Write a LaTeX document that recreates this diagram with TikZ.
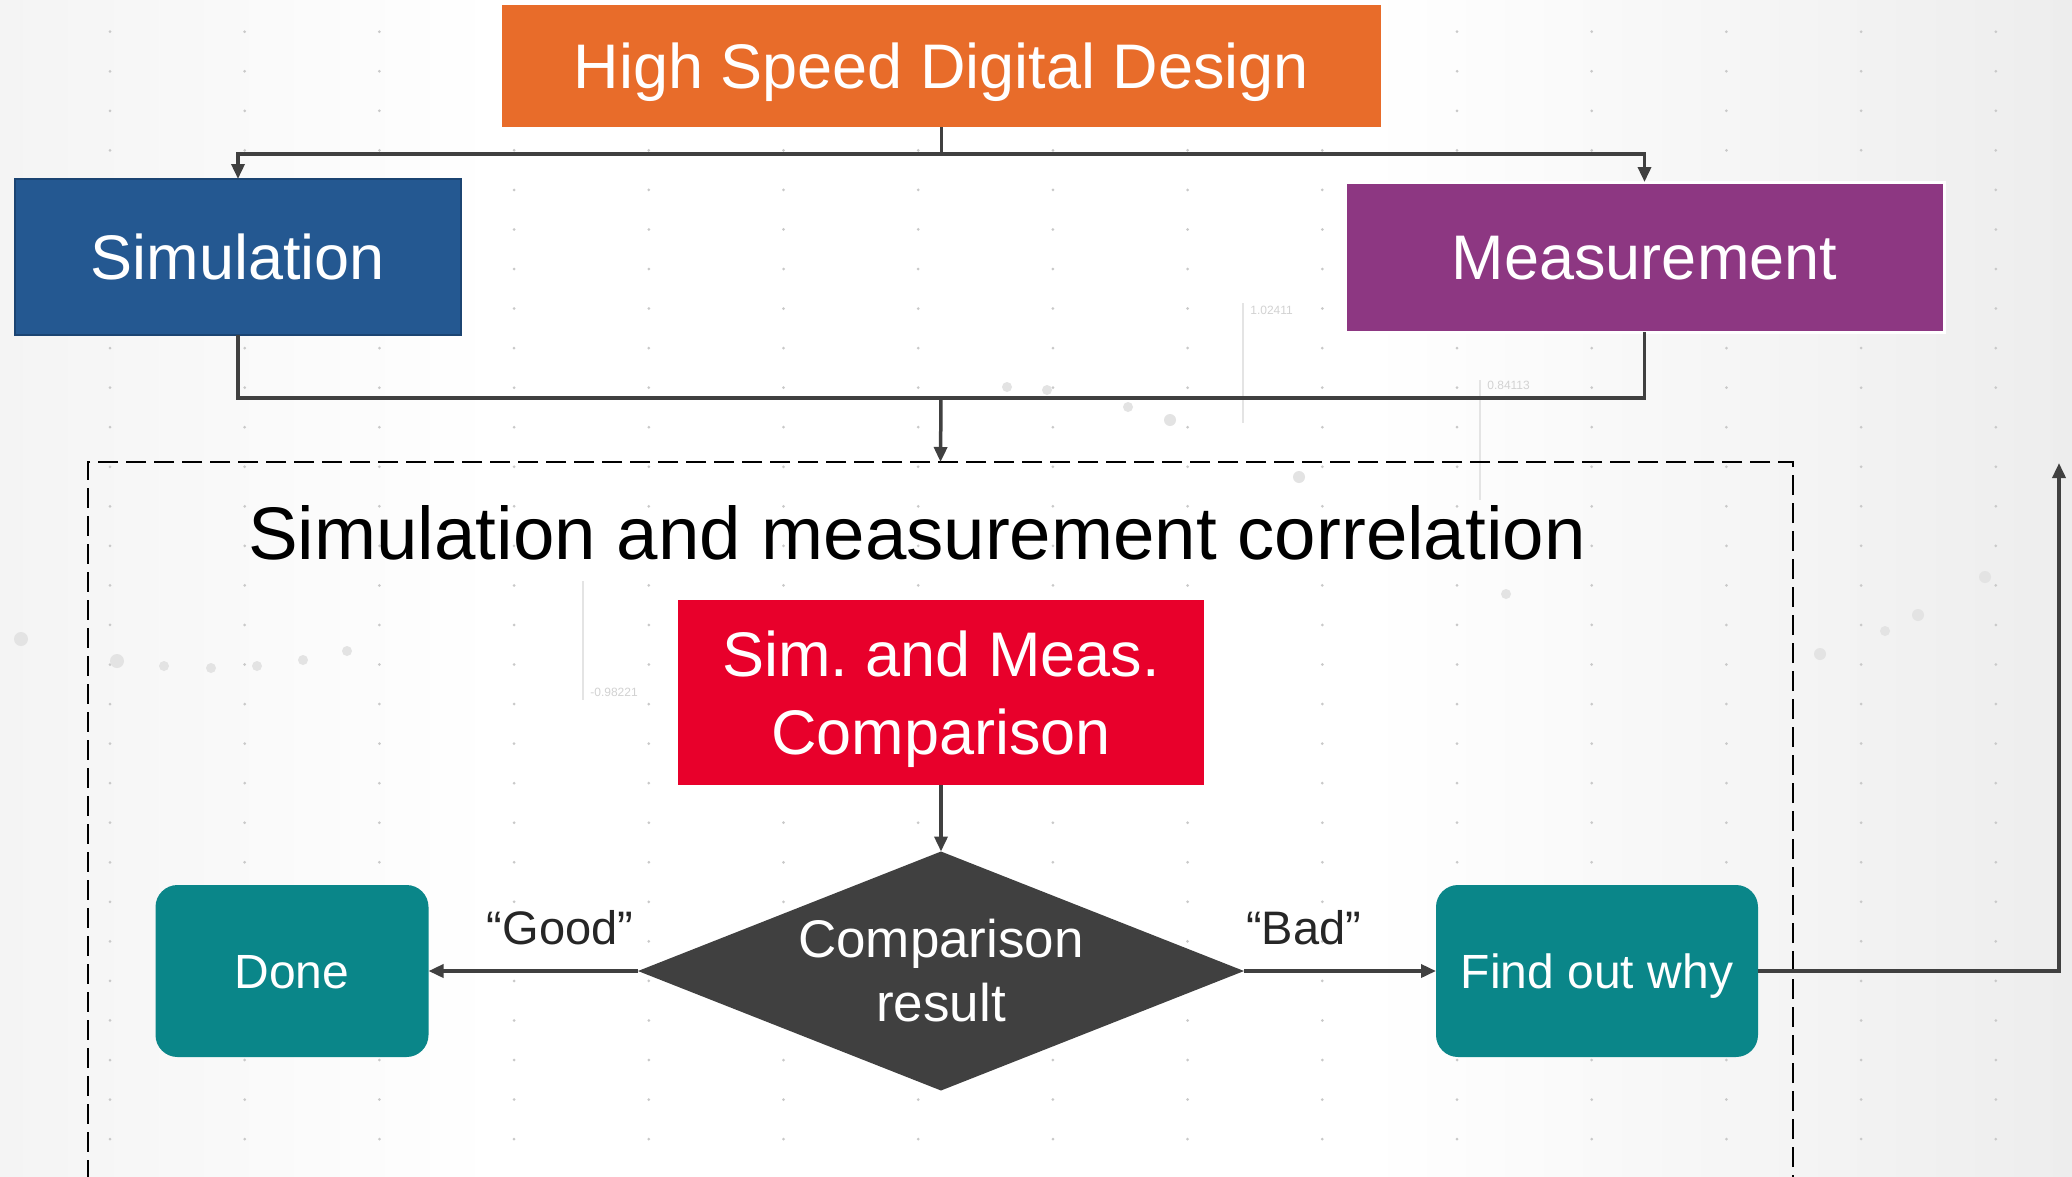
\documentclass[tikz,border=0pt]{standalone}
\usepackage{fontspec}
\setmainfont{Liberation Sans}
\usetikzlibrary{arrows.meta,shapes.geometric}
\frenchspacing

\definecolor{hsdOrange}{HTML}{E86C2A}
\definecolor{simBlue}{HTML}{245891}
\definecolor{simEdge}{HTML}{1B4472}
\definecolor{measPurple}{HTML}{8D3782}
\definecolor{cmpRed}{HTML}{E8002B}
\definecolor{resTeal}{HTML}{0A8689}
\definecolor{decGray}{HTML}{404040}
\definecolor{lineGray}{HTML}{404040}
\definecolor{bgLeft}{HTML}{F4F4F4}
\definecolor{bgRight}{HTML}{EDEDED}
\definecolor{gridDot}{HTML}{C9C9C9}
\definecolor{bokeh}{HTML}{E3E3E3}
\definecolor{chartLine}{HTML}{E4E4E4}
\definecolor{chartText}{HTML}{D2D2D2}
\definecolor{labelInk}{HTML}{262626}

% page background: light grey at the sides, white in the middle
\pgfdeclarehorizontalshading{pagebg}{100bp}{color(0bp)=(bgLeft); color(25bp)=(bgLeft);
  color(37bp)=(white); color(58bp)=(white); color(75bp)=(bgRight); color(100bp)=(bgRight)}

\begin{document}
\begin{tikzpicture}[x=1pt,y=-1pt,
  every node/.style={outer sep=0pt},
  box/.style={rectangle, inner sep=0pt, text=white, align=center},
  bigtext/.style={font=\fontsize{63}{78}\selectfont},
  roundbox/.style={box, fill=resTeal, rounded corners=22pt,
    font=\fontsize{48}{58}\selectfont, text height=35pt, text depth=0pt},
  conn/.style={draw=lineGray, line width=3.5pt},
  arr/.style={conn, -{Triangle[length=15pt,width=13pt]}},
  branchlabel/.style={anchor=base, text=labelInk, font=\fontsize{47}{56}\selectfont},
  faintline/.style={draw=chartLine, line width=1.2pt},
  fainttext/.style={anchor=west, text=chartText, font=\fontsize{12}{14}\selectfont}]

% page and background
\path[use as bounding box] (0,0) rectangle (2072,1176);
\clip (0,0) rectangle (2072,1176);
\shade[shading=pagebg] (0,0) rectangle (2072,1176);

% dotted grid
\foreach \i in {0,...,14}
  \foreach \j in {0,...,29}
    \fill[gridDot] ({110+134.7*\i},{31.7+39.55*\j}) circle (1.5pt);

% soft scattered dots
\foreach \px/\py/\r in {21/639/7, 117/661/7, 164/666/5, 211/668/5, 257/666/5,
    303/660/5, 347/651/5, 1007/387/5, 1047/390/5, 1128/407/5, 1170/420/6,
    1299/477/6, 1506/594/5, 1820/654/6, 1885/631/5, 1918/615/6, 1985/577/6}
  \fill[bokeh] (\px,\py) circle (\r pt);

% faint chart markers
\draw[faintline] (1243,303) -- (1243,423);
\node[fainttext] (v1) at (1247,310) {1.02411};
\draw[faintline] (1480,380) -- (1480,500);
\node[fainttext] (v2) at (1484,385) {0.84113};
\draw[faintline] (583,581) -- (583,700);
\node[fainttext] (v3) at (587,692) {-0.98221};

% top level
\node[box, bigtext, fill=hsdOrange, minimum width=879pt, minimum height=122pt,
  text height=45pt, text depth=0pt] (top) at (941.5,66) {High Speed Digital Design};
\node[box, bigtext, fill=simBlue, draw=simEdge, line width=2pt,
  minimum width=446pt, minimum height=156pt,
  text height=45pt, text depth=0pt] (sim) at (238,257) {Simulation};
\node[box, bigtext, fill=measPurple, draw=white, line width=3pt,
  minimum width=599pt, minimum height=150pt,
  text height=45pt, text depth=0pt] (meas) at (1644.5,257) {Measurement};

% correlation frame
\node[draw=black, line width=2.5pt, dash pattern=on 20pt off 8pt,
  minimum width=1705pt, minimum height=820pt, anchor=north] (corr) at (940.5,462) {};
\node[anchor=base, text=black, font=\fontsize{74.5}{88}\selectfont] (title) at (917,559)
  {Simulation and measurement correlation};

\node[box, bigtext, fill=cmpRed, minimum width=526pt, minimum height=185pt,
  text depth=0pt] (comp) at (941,692.5) {Sim. and Meas.\\Comparison};
\node[diamond, aspect=2.536, fill=decGray, inner sep=0pt,
  minimum width=606pt, minimum height=239pt, text=white, align=center,
  font=\fontsize{53}{64}\selectfont] (result) at (941,971) {Comparison\\result};
\node[roundbox, minimum width=273pt, minimum height=172pt] (done) at (292,971) {Done};
\node[roundbox, minimum width=322pt, minimum height=172pt] (why) at (1597,971) {Find out why};

% connectors
\coordinate (split) at (941.5,154);
\coordinate (merge) at (941,398);
\coordinate (back) at (2059,463);
\draw[conn] (top.south) -- (split);
\draw[arr] (split) -| (sim.north);
\draw[arr] (split) -| (meas.north);
\draw[conn] (sim.south) |- (merge);
\draw[conn] (meas.south) |- (merge);
\draw[arr] (merge) -- (corr.north);
\draw[arr] (comp.south) -- (result.north);
\draw[arr] (result.west) -- (done.east);
\draw[arr] (result.east) -- (why.west);
\draw[arr] (why.east) -| (back);

\node[branchlabel] (good) at (560,944) {“Good”};
\node[branchlabel] (bad) at (1303.5,944) {“Bad”};
\end{tikzpicture}
\end{document}
